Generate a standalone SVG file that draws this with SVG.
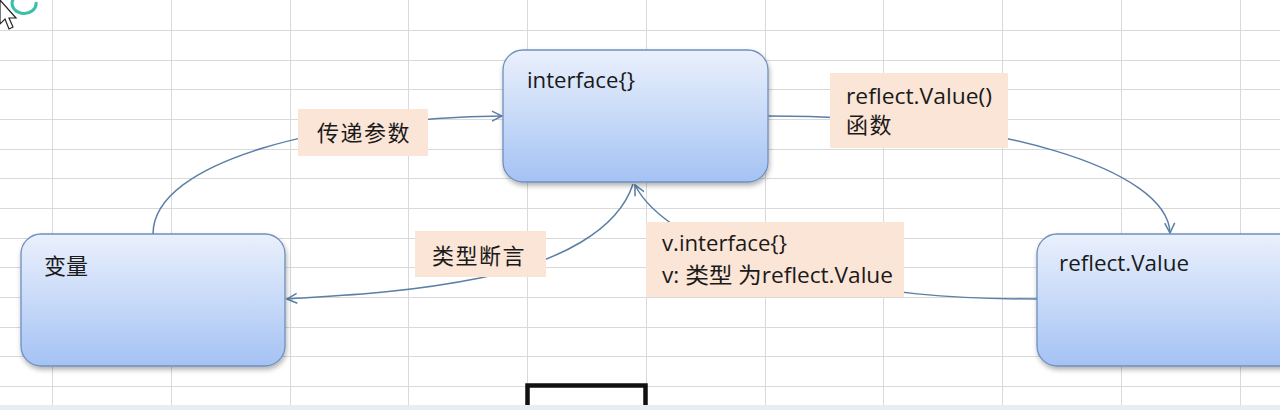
<svg xmlns="http://www.w3.org/2000/svg" width="1280" height="410" viewBox="0 0 1280 410">
<defs>
<linearGradient id="nodeGrad" x1="0" y1="0" x2="0" y2="1">
<stop offset="0" stop-color="#eaf0fc"/>
<stop offset="0.5" stop-color="#c8daf8"/>
<stop offset="1" stop-color="#a4c2f4"/>
</linearGradient>
<filter id="shadow" x="-10%" y="-10%" width="125%" height="130%">
<feDropShadow dx="1" dy="3" stdDeviation="2.5" flood-color="#000" flood-opacity="0.3"/>
</filter>
<marker id="arrow" viewBox="0 0 12 12" refX="11" refY="6" markerWidth="12" markerHeight="12" markerUnits="userSpaceOnUse" orient="auto">
<path d="M1,1 L11,6 L1,11" fill="none" stroke="#5b7fa6" stroke-width="1.5"/>
</marker>
</defs>
<style>
.grid line{stroke:#d9d9d9;stroke-width:1}
.node rect{fill:url(#nodeGrad);stroke:#6f8fbd;stroke-width:1.3;filter:url(#shadow)}
.label rect{fill:#fbe5d6}
.lat{font-family:"Open Sans","Liberation Sans",sans-serif;font-size:21px;fill:#1a1a1a}
.cjk{font-family:"Noto Sans CJK SC","Noto Sans",sans-serif;font-size:22px;fill:#1a1a1a}
.conn path{fill:none;stroke:#5b7fa6;stroke-width:1.5}
</style>
<rect x="0" y="0" width="1280" height="410" fill="#ffffff"/>
<g class="grid">
<line x1="52.5" y1="0" x2="52.5" y2="405"/>
<line x1="171.5" y1="0" x2="171.5" y2="405"/>
<line x1="290.5" y1="0" x2="290.5" y2="405"/>
<line x1="408.5" y1="0" x2="408.5" y2="405"/>
<line x1="527.5" y1="0" x2="527.5" y2="405"/>
<line x1="646.5" y1="0" x2="646.5" y2="405"/>
<line x1="765.5" y1="0" x2="765.5" y2="405"/>
<line x1="883.5" y1="0" x2="883.5" y2="405"/>
<line x1="1002.5" y1="0" x2="1002.5" y2="405"/>
<line x1="1121.5" y1="0" x2="1121.5" y2="405"/>
<line x1="1240.5" y1="0" x2="1240.5" y2="405"/>
<line x1="0" y1="30.5" x2="1280" y2="30.5"/>
<line x1="0" y1="60.5" x2="1280" y2="60.5"/>
<line x1="0" y1="89.5" x2="1280" y2="89.5"/>
<line x1="0" y1="119.5" x2="1280" y2="119.5"/>
<line x1="0" y1="149.5" x2="1280" y2="149.5"/>
<line x1="0" y1="178.5" x2="1280" y2="178.5"/>
<line x1="0" y1="208.5" x2="1280" y2="208.5"/>
<line x1="0" y1="238.5" x2="1280" y2="238.5"/>
<line x1="0" y1="267.5" x2="1280" y2="267.5"/>
<line x1="0" y1="297.5" x2="1280" y2="297.5"/>
<line x1="0" y1="327.5" x2="1280" y2="327.5"/>
<line x1="0" y1="356.5" x2="1280" y2="356.5"/>
<line x1="0" y1="386.5" x2="1280" y2="386.5"/>
</g>
<rect x="0" y="405" width="1280" height="5" fill="#e9edf0"/>
<path d="M527.5,405 V385.5 H645.5 V405" fill="none" stroke="#111" stroke-width="4.5"/>
<g id="cursor">
<path d="M14,-2 A12,10 0 1 0 36,2" fill="none" stroke="#3cbfa8" stroke-width="3"/>
<path d="M0,0 L0,24 L5,19 L9,29 L13,27 L9,18 L16,18 Z" fill="#ffffff" stroke="#222" stroke-width="1.2"/>
</g>
<g id="connectors" class="conn">
<path d="M153,234 C153,160 330,118 502,116" marker-end="url(#arrow)"/>
<path d="M633,184 C618,230 560,262 480,278 S330,296 287,299" marker-end="url(#arrow)"/>
<path d="M768,116 C1000,116 1168,170 1170,233" marker-end="url(#arrow)"/>
<path d="M1037,299 C960,299 880,295 780,270 C700,250 650,215 635,185" marker-end="url(#arrow)"/>
</g>
<g id="node-var" class="node">
<rect x="21" y="234" width="264" height="132" rx="20" ry="20"/>
<text class="cjk" x="44" y="274">变量</text>
</g>
<g id="node-interface" class="node">
<rect x="503" y="50" width="265" height="132" rx="20" ry="20"/>
<text class="lat" x="527" y="88" textLength="108" lengthAdjust="spacingAndGlyphs">interface{}</text>
</g>
<g id="node-reflect" class="node">
<rect x="1037" y="234" width="270" height="132" rx="20" ry="20"/>
<text class="lat" x="1059" y="271" textLength="130" lengthAdjust="spacingAndGlyphs">reflect.Value</text>
</g>
<g id="label-pass" class="label">
<rect x="298" y="109" width="130" height="47"/>
<text class="cjk" x="317" y="141" letter-spacing="1.5">传递参数</text>
</g>
<g id="label-func" class="label">
<rect x="830" y="73" width="178" height="75"/>
<text class="lat" x="846" y="104" textLength="146" lengthAdjust="spacingAndGlyphs">reflect.Value()</text>
<text class="cjk" x="846" y="133" letter-spacing="1.5">函数</text>
</g>
<g id="label-assert" class="label">
<rect x="415" y="231" width="131" height="46"/>
<text class="cjk" x="432" y="264" letter-spacing="1.5">类型断言</text>
</g>
<g id="label-vinterface" class="label">
<rect x="646" y="222" width="258" height="75"/>
<text class="lat" x="662" y="251" textLength="125" lengthAdjust="spacingAndGlyphs">v.interface{}</text>
<text x="662" y="283" textLength="231" lengthAdjust="spacingAndGlyphs"><tspan class="lat">v: </tspan><tspan class="cjk">类型 为</tspan><tspan class="lat">reflect.Value</tspan></text>
</g>
</svg>
